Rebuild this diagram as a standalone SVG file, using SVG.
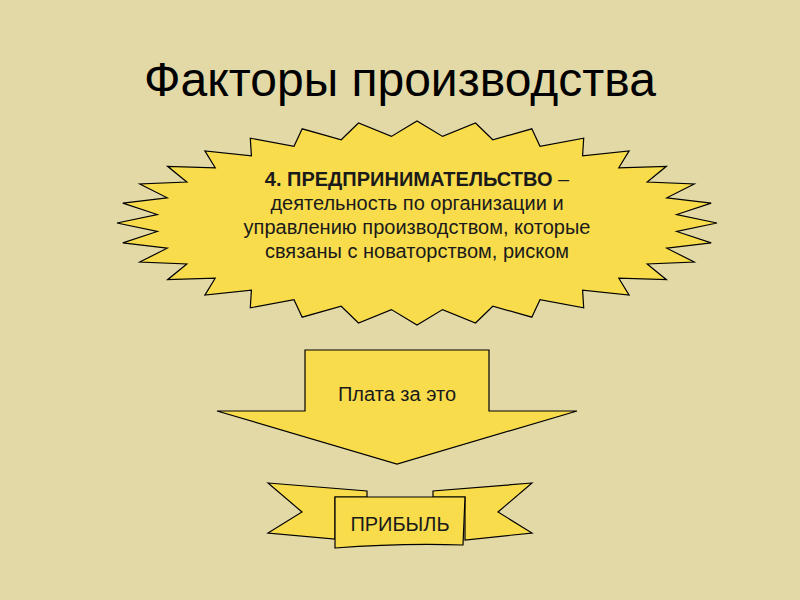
<svg xmlns="http://www.w3.org/2000/svg" width="800" height="600" viewBox="0 0 800 600">
  <style>
    .shape { fill: #F8DC4C; stroke: #000; stroke-width: 1.2; stroke-linejoin: miter; }
    .t { font-family: "Liberation Sans", Arial, sans-serif; fill: #1a1a1a; text-anchor: middle; }
    .title { font-size: 48px; fill: #000; }
    .body { font-size: 20px; }
    .bold { font-weight: bold; }
  </style>
  <rect x="0" y="0" width="800" height="600" fill="#E3D9A6"/>

  <g id="title">
    <text class="t title" x="400" y="96">Факторы производства</text>
  </g>

  <g id="entrepreneurship">
    <polygon class="shape" points="717,223 676.7,214.5 711.2,203.1 666.8,197.8 694.2,184 647.2,182 666.4,166.3 618.8,167.8 629.1,150.9 582.6,155.8 583.7,138.2 540,146.3 531.8,128.8 492.8,139.8 475.5,123 442.6,136.4 417,121 391.4,136.4 358.5,123 341.2,139.8 302.2,128.8 294,146.3 250.3,138.2 251.4,155.8 204.9,150.9 215.2,167.8 167.6,166.3 186.8,182 139.8,184 167.2,197.8 122.8,203.1 157.3,214.5 117,223 157.3,231.5 122.8,242.9 167.2,248.2 139.8,262 186.8,264 167.6,279.7 215.2,278.2 204.9,295.1 251.4,290.2 250.3,307.8 294,299.7 302.2,317.2 341.2,306.2 358.5,323 391.4,309.6 417,325 442.6,309.6 475.5,323 492.8,306.2 531.8,317.2 540,299.7 583.7,307.8 582.6,290.2 629.1,295.1 618.8,278.2 666.4,279.7 647.2,264 694.2,262 666.8,248.2 711.2,242.9 676.7,231.5"/>
    <text class="t body" x="417" y="186"><tspan class="bold">4. ПРЕДПРИНИМАТЕЛЬСТВО</tspan> –</text>
    <text class="t body" x="417" y="210">деятельность по организации и</text>
    <text class="t body" x="417" y="234">управлению производством, которые</text>
    <text class="t body" x="417" y="258">связаны с новаторством, риском</text>
  </g>

  <g id="payment">
    <polygon class="shape" points="305,350 489,350 489,411 577,411 397,464 217,411 305,411"/>
    <text class="t body" x="397" y="401">Плата за это</text>
  </g>

  <g id="profit">
    <polygon class="shape" points="268,483 367,491 367,497 335,497 335,539 268,533 302,512"/>
    <polygon class="shape" points="532,483 433,491 433,497 465,497 465,540 532,533 498,512"/>
    <path class="shape" d="M335,497 L465,497 L463,545 Q400,543 335,548 Z"/>
    <text class="t body" x="400" y="531">ПРИБЫЛЬ</text>
  </g>

  <g id="connectors"/>
</svg>
